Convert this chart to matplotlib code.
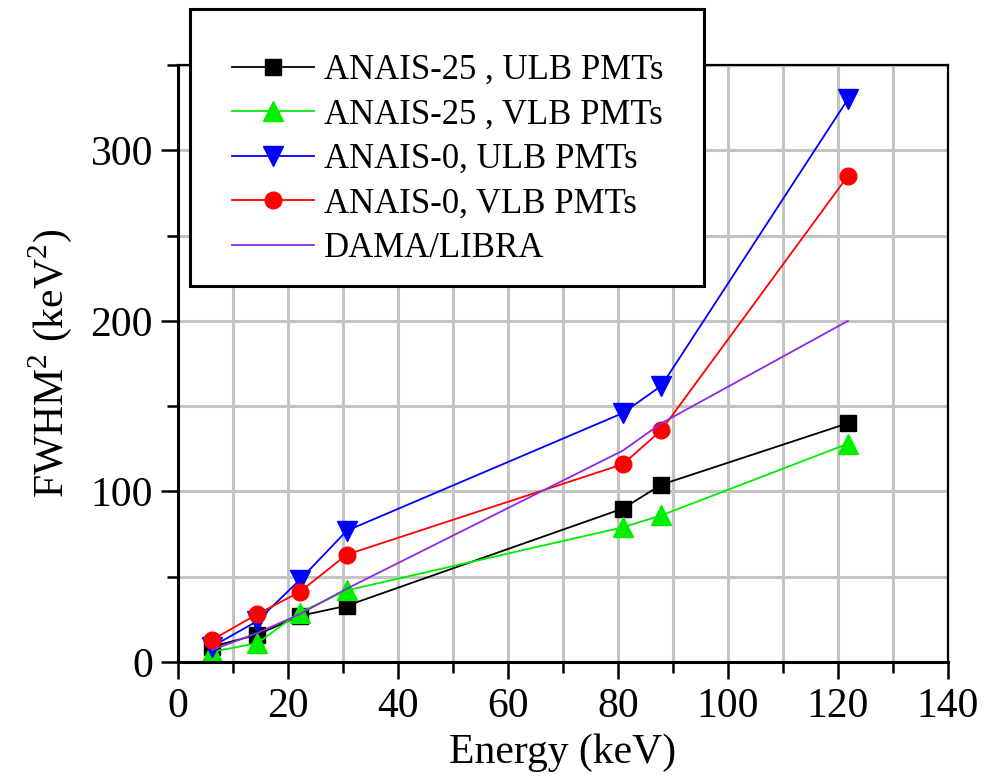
import matplotlib
matplotlib.use("Agg")
import matplotlib.pyplot as plt
from matplotlib.patches import Rectangle
from matplotlib.ticker import MultipleLocator

plt.rcParams['font.family'] = ['Liberation Serif', 'DejaVu Serif']
plt.rcParams['mathtext.fontset'] = 'custom'
plt.rcParams['mathtext.rm'] = 'Liberation Serif'

# energies of the calibration lines (keV)
energy = [6.2, 14.4, 22.1, 30.7, 80.9, 87.9, 121.8]

# FWHM^2 (keV^2)
anais25_ulb = [9, 16, 27, 33, 90, 104, 140]
anais25_vlb = [6, 11, 29, 42, 79, 86, 128]
anais0_ulb = [9, 24, 48, 77, 146, 162, 330]
anais0_vlb = [13, 28, 41, 63, 116, 136, 285]
dama_libra = [7, 17, 28, 43, 124, 140, 200]

labels = ["ANAIS-25 , ULB PMTs", "ANAIS-25 , VLB PMTs",
          "ANAIS-0, ULB PMTs", "ANAIS-0, VLB PMTs", "DAMA/LIBRA"]

fig = plt.figure(figsize=(9.86, 7.84), dpi=100)
ax = fig.add_axes([0.1805, 0.1556, 0.781, 0.7614])

lw = 1.3
ax.plot(energy, anais25_ulb, color='black', lw=lw, marker='s', ms=11, label=labels[0])
ax.plot(energy, anais25_vlb, color='#00ee00', lw=lw, marker='^', ms=15, label=labels[1])
ax.plot(energy, anais0_ulb, color='#0000ff', lw=lw, marker='v', ms=15, label=labels[2])
ax.plot(energy, anais0_vlb, color='#ff0000', lw=lw, marker='o', ms=12, label=labels[3])
ax.plot(energy, dama_libra, color='#8a2be2', lw=lw, label=labels[4])

ax.set_xlim(0, 140)
ax.set_ylim(0, 350)
ax.xaxis.set_major_locator(MultipleLocator(20))
ax.xaxis.set_minor_locator(MultipleLocator(10))
ax.yaxis.set_major_locator(MultipleLocator(100))
ax.yaxis.set_minor_locator(MultipleLocator(50))

ax.grid(True, which='both', color='#c4c4c4', lw=2.2, zorder=0)
ax.set_axisbelow(True)

for s in ['left', 'bottom']:
    ax.spines[s].set_linewidth(2.2)
for s in ['top', 'right']:
    ax.spines[s].set_linewidth(1.6)

ax.tick_params(axis='both', which='major', direction='out', length=12, width=1.8,
               labelsize=30, pad=6)
ax.tick_params(axis='both', which='minor', direction='out', length=8, width=1.8)

ax.set_xlabel("Energy (keV)", fontsize=30, labelpad=6)
ax.set_ylabel("FWHM$^2$ (keV$^2$)", fontsize=30, labelpad=12)

# legend box (sticks out above the plot area)
W, H = 986, 784
box = Rectangle((190 / W, 1 - 286 / H), (704 - 190) / W, (286 - 9) / H,
                transform=fig.transFigure, facecolor='white', edgecolor='black',
                lw=2.2, zorder=4)
fig.patches.append(box)

leg = fig.legend(loc='upper left', bbox_to_anchor=(232 / W, 1 - 54 / H), borderaxespad=0,
                 fontsize=25, frameon=False, borderpad=0,
                 handlelength=2.36, handletextpad=0.3, labelspacing=0.33)
leg.set_zorder(6)

fig.savefig("out.png", dpi=100)
